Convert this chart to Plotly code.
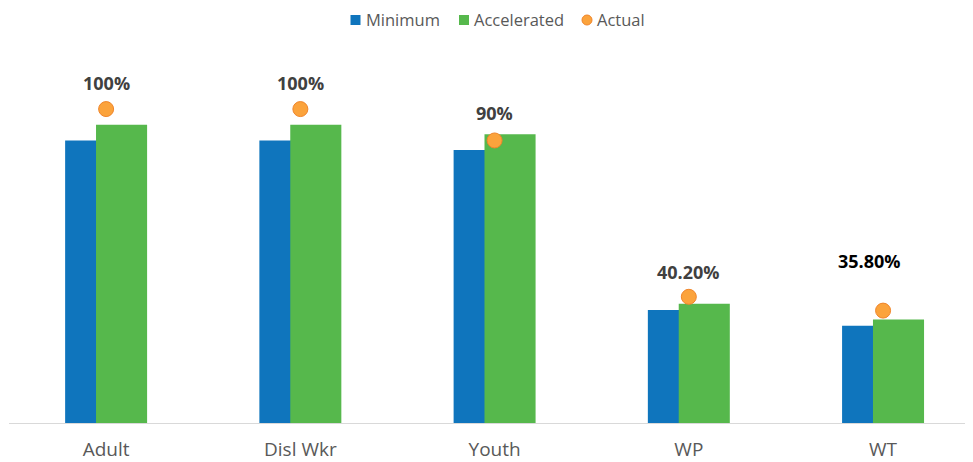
import plotly.graph_objects as go

categories = ["Adult", "Disl Wkr", "Youth", "WP", "WT"]
minimum = [90.0, 90.0, 87.0, 36.0, 31.0]
accelerated = [95.0, 95.0, 92.0, 38.0, 33.0]
actual = [100.0, 100.0, 90.0, 40.2, 35.8]
actual_labels = ["100%", "100%", "90%", "40.20%", "35.80%"]
series_names = ["Minimum", "Accelerated", "Actual"]

# label placement styles (pixels)
label_yshift = [26, 26, 27, 25, 50]
label_xshift = [0, 0, 0, 0, -14]
label_colors = ["#404040", "#404040", "#404040", "#404040", "#000000"]

BLUE = "#0F75BD"
GREEN = "#56B84C"
ORANGE = "#FBA33C"
ORANGE_LINE = "#F0852A"

W, H = 973, 462
ML, MR, MT, MB = 1, 8, 32, 47
PW, PH = W - ML - MR, H - MT - MB
OFF = 8  # page offset of figure


def xp(page_x):
    return (page_x - OFF - ML) / PW


def yp(page_y):
    return 1 - (page_y - OFF - MT) / PH


fig = go.Figure()
fig.add_trace(go.Bar(
    name=series_names[0], x=categories, y=minimum,
    marker=dict(color=BLUE, line=dict(width=0)),
    width=0.263, offset=-0.211,
))
fig.add_trace(go.Bar(
    name=series_names[1], x=categories, y=accelerated,
    marker=dict(color=GREEN, line=dict(width=0)),
    width=0.263, offset=-0.052,
))
fig.add_trace(go.Scatter(
    name=series_names[2], x=categories, y=actual, mode="markers",
    marker=dict(color=ORANGE, size=15, line=dict(color=ORANGE_LINE, width=1)),
))

for i, c in enumerate(categories):
    fig.add_annotation(
        x=c, y=actual[i], text="<b>%s</b>" % actual_labels[i],
        showarrow=False, yshift=label_yshift[i], xshift=label_xshift[i],
        font=dict(family="Open Sans", size=18, color=label_colors[i]),
    )

# manual legend (symbol centre x, text left x, in page pixels)
leg_sym_x = [355.5, 464, 587]
leg_text_x = [366, 474, 597]
leg_y = 20
leg_colors = [BLUE, GREEN, ORANGE]
for i, name in enumerate(series_names):
    if i < 2:
        fig.add_shape(
            type="rect", xref="paper", yref="paper",
            xsizemode="pixel", ysizemode="pixel",
            xanchor=xp(leg_sym_x[i]), yanchor=yp(leg_y),
            x0=-5, x1=5, y0=-5, y1=5,
            fillcolor=leg_colors[i], line=dict(width=0),
        )
    else:
        fig.add_shape(
            type="circle", xref="paper", yref="paper",
            xsizemode="pixel", ysizemode="pixel",
            xanchor=xp(leg_sym_x[i]), yanchor=yp(leg_y),
            x0=-5, x1=5, y0=-5, y1=5,
            fillcolor=ORANGE, line=dict(color=ORANGE_LINE, width=1),
        )
    fig.add_annotation(
        xref="paper", yref="paper", x=xp(leg_text_x[i]) - 0.002, y=yp(leg_y),
        xanchor="left", yanchor="middle", text=name, showarrow=False,
        font=dict(family="Open Sans", size=16.5, color="#595959"),
    )

fig.update_layout(
    width=W, height=H,
    barmode="overlay",
    plot_bgcolor="white", paper_bgcolor="white",
    margin=dict(l=ML, r=MR, t=MT, b=MB),
    font=dict(family="Open Sans", color="#595959"),
    showlegend=False,
)
fig.update_xaxes(
    range=[-0.5, 4.463], showline=True, linecolor="#D9D9D9", linewidth=1,
    ticks="", showgrid=False, tickfont=dict(family="Open Sans", size=19, color="#595959"),
    ticklabelstandoff=9,
)
fig.update_yaxes(range=[0, 122], visible=False, showgrid=False, zeroline=False)

fig.write_html("out.html")
